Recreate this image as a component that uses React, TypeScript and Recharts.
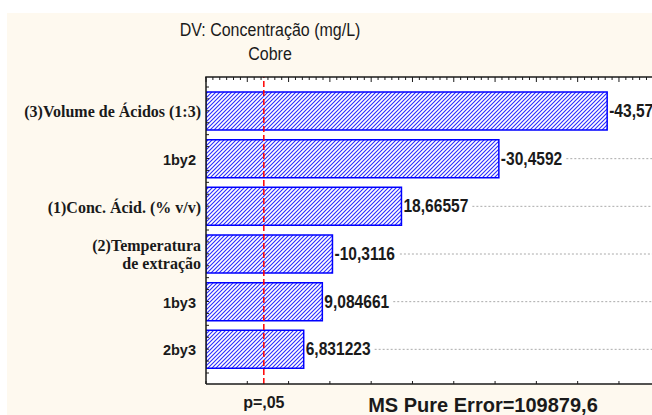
import React from "react"
import { BarChart, Bar, XAxis, YAxis, ReferenceLine, LabelList } from "recharts"

// effects, ordered as the chart lists them (top to bottom)
const factors = [
  "(3)Volume de Ácidos (1:3)",
  "1by2",
  "(1)Conc. Ácid. (% v/v)",
  "(2)Temperatura\nde extração",
  "1by3",
  "2by3",
]
const effects = [-43.5712, -30.4592, 18.66557, -10.3116, 9.084661, 6.831223]

const pCritical = 2.0
const axisMin = -5
const axisMax = 49
const majorTicks = [-5, 0, 5, 10, 15, 20, 25, 30, 35, 40, 45]
const minorPerMajor = 6

const title = "DV: Concentração (mg/L)"
const subtitle = "Cobre"
const pLabel = "p=,05"
const footer = "MS Pure Error=109879,6"

const W = 652
const H = 415
const PLOT_TOP = 77
const PLOT_BOTTOM = 384
const PLOT_LEFT = 206
const INK = "#1a1a1a"
const BLUE = "#0000ff"
const SANS = "'Liberation Sans', Arial, sans-serif"
const SERIF = "'Liberation Serif', 'Times New Roman', serif"
// the original uses a tall, slightly condensed Arial
const CONDENSE = 0.865

const allTicks: number[] = []
majorTicks.forEach((m) => {
  for (let k = 0; k < minorPerMajor; k++) {
    const v = m + (k * 5) / minorPerMajor
    if (v <= axisMax) allTicks.push(Number(v.toFixed(4)))
  }
})

const data = factors.map((name, i) => ({
  name,
  effect: effects[i],
  span: [axisMin, Math.abs(effects[i])],
}))

const fmt = (v: number) => String(v).replace(".", ",")

function textWidth(s: string, size: number) {
  let w = 0
  for (const c of s) {
    if (c === ",") w += 0.278
    else if (c === "-") w += 0.333
    else w += 0.556
  }
  return w * size * CONDENSE
}

function NarrowText(props: any) {
  const { x, y, size, bold, anchor, children, central } = props
  return (
    <text
      transform={`translate(${x},${y}) scale(${CONDENSE},1)`}
      textAnchor={anchor || "start"}
      dominantBaseline={central ? "central" : undefined}
      fontFamily={SANS}
      fontWeight={bold ? "bold" : "normal"}
      fontSize={size}
      fill={INK}
    >
      {children}
    </text>
  )
}

function ValueLabel(props: any) {
  const { x, y, width, height, value } = props
  const text = fmt(Number(value))
  const tx = x + width + 2
  const cy = y + height / 2
  const tw = textWidth(text, 18)
  return (
    <g>
      <line x1={tx + tw + 4} x2={W + 20} y1={cy} y2={cy} stroke="#aaaaaa" strokeWidth={1} strokeDasharray="2 2" />
      <NarrowText x={tx} y={cy} size={18} bold central>
        {text}
      </NarrowText>
    </g>
  )
}

function FactorTick(props: any) {
  const { y, payload, index } = props
  const lines = String(payload.value).split("\n")
  const serif = lines[0].startsWith("(")
  const band = (PLOT_BOTTOM - PLOT_TOP - 21) / factors.length
  const marks = [-band / 2, -band / 4, 0, band / 4]
  if (index === factors.length - 1) marks.push(band / 2)
  return (
    <g>
      {marks.map((d, i) => (
        <line key={i} x1={PLOT_LEFT} x2={PLOT_LEFT + 3} y1={y + d} y2={y + d} stroke={INK} strokeWidth={1} />
      ))}
      {lines.map((ln, i) => (
        <text
          key={i}
          x={serif ? PLOT_LEFT - 5 : PLOT_LEFT - 10}
          y={lines.length > 1 ? y - 8 + i * 18 : y + 1}
          textAnchor="end"
          dominantBaseline="central"
          fontFamily={serif ? SERIF : SANS}
          fontWeight="bold"
          fontSize={serif ? 16 : 14.5}
          fill={INK}
        >
          {ln}
        </text>
      ))}
    </g>
  )
}

// one tick renderer draws the frame marks on both the top and bottom edges
function FrameTick(props: any) {
  const { x, payload } = props
  const v = Number(payload.value)
  const major = majorTicks.includes(v)
  return (
    <g>
      <line x1={x} x2={x} y1={PLOT_TOP} y2={PLOT_TOP + (major ? 5 : 3)} stroke={INK} strokeWidth={1} />
      {major && <line x1={x} x2={x} y1={PLOT_BOTTOM} y2={PLOT_BOTTOM - 3} stroke={INK} strokeWidth={1} />}
    </g>
  )
}

function PLabel(props: any) {
  const { viewBox } = props
  return (
    <text
      x={viewBox.x}
      y={viewBox.y + viewBox.height + 24}
      textAnchor="middle"
      fontFamily={SANS}
      fontWeight="bold"
      fontSize={16}
      fill={INK}
    >
      {pLabel}
    </text>
  )
}

export default function App() {
  return (
    <div style={{ position: "absolute", left: 0, top: 0, width: W, height: H, overflow: "hidden", background: "#ffffff" }}>
      <div style={{ position: "absolute", left: 7, top: 13, right: 0, bottom: 0, background: "#fef9ef" }} />
      <div
        style={{
          position: "absolute",
          left: PLOT_LEFT,
          top: PLOT_TOP,
          right: 0,
          height: PLOT_BOTTOM - PLOT_TOP,
          background: "#ffffff",
        }}
      />
      <svg width={0} height={0} style={{ position: "absolute" }}>
        <defs>
          <pattern id="hatch" patternUnits="userSpaceOnUse" width={4} height={4}>
            <rect width={4} height={4} fill="#ffffff" />
            <path d="M-1,1 l2,-2 M0,4 l4,-4 M3,5 l2,-2" stroke="#2b2bff" strokeWidth={1.1} />
          </pattern>
        </defs>
      </svg>
      <div style={{ position: "absolute", left: 0, top: 0 }}>
        <BarChart
          width={W}
          height={H}
          data={data}
          layout="vertical"
          margin={{ top: PLOT_TOP, right: 0, bottom: H - PLOT_BOTTOM - 1, left: PLOT_LEFT - 200 }}
        >
          <XAxis
            type="number"
            domain={[axisMin, axisMax]}
            allowDataOverflow
            ticks={allTicks}
            interval={0}
            height={1}
            axisLine={{ stroke: INK, strokeWidth: 1.5 }}
            tickLine={false}
            tick={(p: any) => <FrameTick {...p} />}
          />
          <YAxis
            type="category"
            dataKey="name"
            width={200}
            padding={{ top: 10, bottom: 11 }}
            axisLine={{ stroke: INK, strokeWidth: 1.5 }}
            tickLine={false}
            tickSize={0}
            interval={0}
            tick={(p: any) => <FactorTick {...p} />}
          />
          <Bar dataKey="span" barSize={38} fill="url(#hatch)" stroke={BLUE} strokeWidth={1.5} isAnimationActive={false}>
            <LabelList dataKey="effect" content={(p: any) => <ValueLabel {...p} />} />
          </Bar>
          <ReferenceLine
            x={pCritical}
            stroke="#ff0000"
            strokeWidth={1.5}
            strokeDasharray="6 3"
            label={(p: any) => <PLabel {...p} />}
          />
        </BarChart>
      </div>
      <svg width={W} height={H} style={{ position: "absolute", left: 0, top: 0, pointerEvents: "none" }}>
        <line x1={PLOT_LEFT - 0.75} x2={W} y1={PLOT_TOP} y2={PLOT_TOP} stroke={INK} strokeWidth={1.5} />
        <NarrowText x={270} y={36} size={18.5} anchor="middle">
          {title}
        </NarrowText>
        <NarrowText x={270} y={60} size={18.5} anchor="middle">
          {subtitle}
        </NarrowText>
        <text x={483} y={412} textAnchor="middle" fontFamily={SANS} fontWeight="bold" fontSize={20} fill={INK}>
          {footer}
        </text>
      </svg>
    </div>
  )
}
